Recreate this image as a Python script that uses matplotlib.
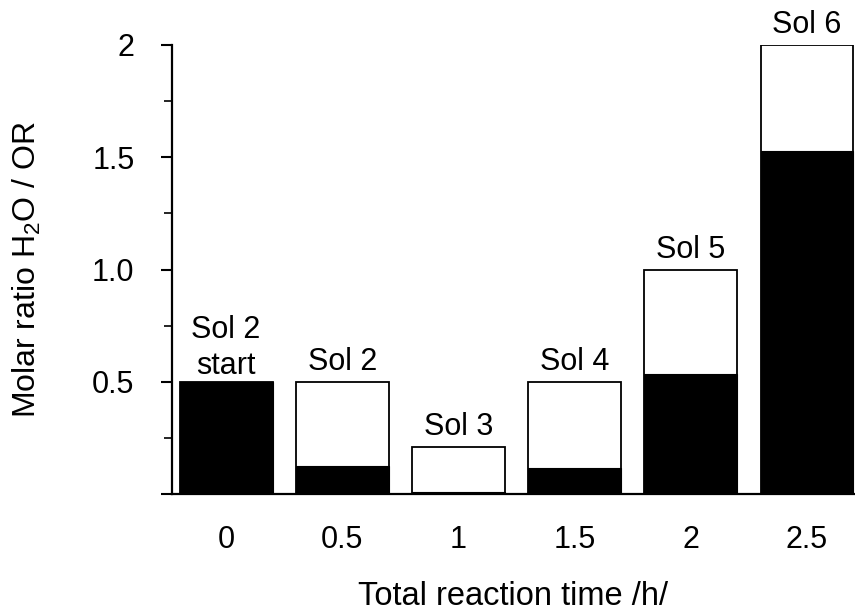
import matplotlib
matplotlib.use("Agg")
import matplotlib.pyplot as plt
import numpy as np

plt.rcParams['font.family'] = ['Liberation Sans', 'DejaVu Sans']
plt.rcParams['mathtext.fontset'] = 'custom'
plt.rcParams['mathtext.rm'] = 'Liberation Sans'
plt.rcParams['mathtext.it'] = 'Liberation Sans:italic'
plt.rcParams['mathtext.bf'] = 'Liberation Sans:bold'

times = ["0", "0.5", "1", "1.5", "2", "2.5"]
total_ratio = [0.50, 0.50, 0.21, 0.50, 1.00, 2.00]
black_ratio = [0.50, 0.125, 0.01, 0.115, 0.535, 1.53]
bar_labels = ["Sol 2\nstart", "Sol 2", "Sol 3", "Sol 4", "Sol 5", "Sol 6"]

FS = 22
fig = plt.figure(figsize=(8.55, 6.13), dpi=100)
ax = fig.add_axes([172/855, 1-494/613, 1-172/855, (494-45)/613])

x = np.arange(len(times))
ax.bar(x, total_ratio, width=0.8, color='white', edgecolor='black', linewidth=1.3, zorder=2)
ax.bar(x, black_ratio, width=0.8, color='black', edgecolor='black', linewidth=0.8, zorder=3)

for xi, tot, lab in zip(x, total_ratio, bar_labels):
    off = 0.5 if "\n" in lab else 3.5
    ax.annotate(lab, (xi, tot), xytext=(0, off), textcoords='offset points',
                ha='center', va='bottom', fontsize=FS, linespacing=1.25,
                annotation_clip=False, clip_on=False)

ax.set_xlim(-0.465, 5.413)
ax.set_ylim(0, 2)
ax.set_xticks(x)
ax.set_xticklabels(times, fontsize=FS)
ax.tick_params(axis='x', length=0, pad=22)
ax.set_yticks([0, 0.5, 1.0, 1.5, 2.0])
ax.set_yticklabels(["", "0.5", "1.0", "1.5", "2"], fontsize=FS)
ax.set_yticks([0.25, 0.75, 1.25, 1.75], minor=True)
ax.tick_params(axis='y', which='major', length=8, width=1.5, pad=19, direction='out')
ax.tick_params(axis='y', which='minor', length=5.5, width=1.2, direction='out')

for s in ['top', 'right']:
    ax.spines[s].set_visible(False)
for s in ['left', 'bottom']:
    ax.spines[s].set_linewidth(1.6)

ax.set_xlabel("Total reaction time /h/", fontsize=23.5, labelpad=19)
ax.set_ylabel("Molar ratio H$_\\mathrm{2}$O / OR", fontsize=23, labelpad=35)

fig.savefig("out.png", dpi=100)
